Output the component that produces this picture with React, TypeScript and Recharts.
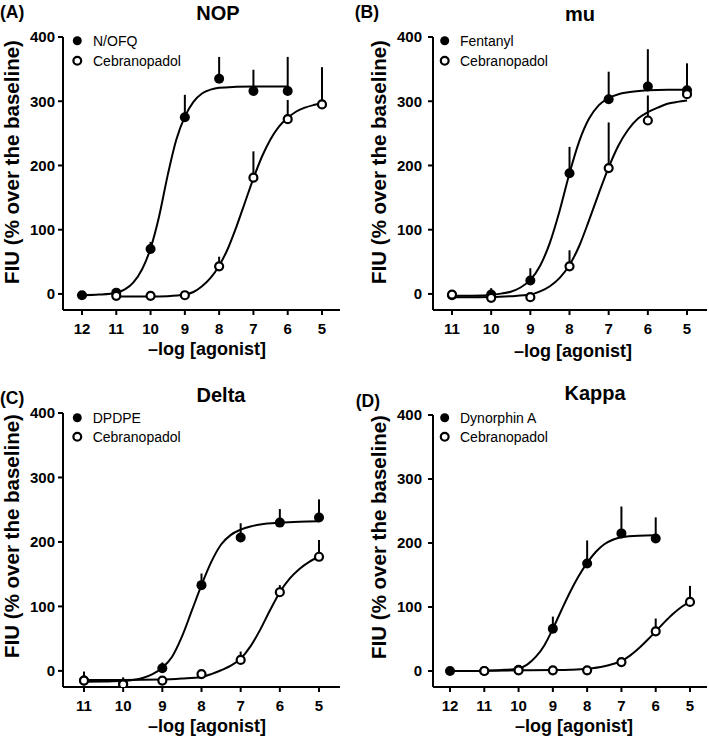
import React from 'react';
import { ComposedChart, Line, Scatter, XAxis, YAxis, ErrorBar } from 'recharts';

const FONT = '"Liberation Sans", Arial, Helvetica, sans-serif';

// ---------- Panel A: NOP ----------
const aAgonistX = [12, 11, 10, 9, 8, 7, 6];
const aAgonistY = [-2, 2, 70, 275, 335, 316, 316];
const aAgonistErr = [0, 0, 11, 35, 34, 33, 53];
const aCebX = [11, 10, 9, 8, 7, 6, 5];
const aCebY = [-3, -3, -2, 43, 181, 272, 295];
const aCebErr = [0, 0, 0, 15, 41, 30, 58];
const aAgonistCurveX = [12, 11.5, 11, 10.75, 10.5, 10.25, 10, 9.75, 9.5, 9.25, 9, 8.75, 8.5, 8.25, 8, 7.5, 7, 6];
const aAgonistCurveY = [-2, -1, 2, 7, 18, 38, 71, 121, 185, 240, 276, 299, 312, 318, 321, 322.5, 323, 323];
const aCebCurveX = [11, 10, 9.5, 9, 8.75, 8.5, 8.25, 8, 7.75, 7.5, 7.25, 7, 6.75, 6.5, 6.25, 6, 5.75, 5.5, 5.25, 5];
const aCebCurveY = [-4, -4, -3.5, -1, 3, 12, 25, 44, 70, 104, 142, 180, 214, 241, 261, 274, 284, 290, 294, 297];

// ---------- Panel B: mu ----------
const bAgonistX = [11, 10, 9, 8, 7, 6, 5];
const bAgonistY = [-2, -1, 21, 188, 303, 323, 317];
const bAgonistErr = [0, 10, 19, 41, 43, 58, 42];
const bCebX = [11, 10, 9, 8, 7, 6, 5];
const bCebY = [-1, -6, -5, 43, 196, 270, 311];
const bCebErr = [0, 0, 0, 25, 71, 39, 0];
const bAgonistCurveX = [11, 10.5, 10, 9.75, 9.5, 9.25, 9, 8.75, 8.5, 8.25, 8, 7.75, 7.5, 7.25, 7, 6.75, 6.5, 6, 5.5, 5];
const bAgonistCurveY = [-3, -2.7, -1.5, 0.5, 3.5, 10, 22, 44, 80, 130, 188, 238, 273, 294, 305, 311, 314, 317, 318, 318];
const bCebCurveX = [11, 10.5, 10, 9.5, 9, 8.75, 8.5, 8.25, 8, 7.75, 7.5, 7.25, 7, 6.75, 6.5, 6.25, 6, 5.75, 5.5, 5.25, 5];
const bCebCurveY = [-5, -5, -4.8, -3.5, -1, 4, 12, 25, 45, 75, 115, 157, 197, 231, 256, 273, 283, 290, 296, 299, 301];

// ---------- Panel C: Delta ----------
const cAgonistX = [11, 10, 9, 8, 7, 6, 5];
const cAgonistY = [-15, -20, 4, 133, 207, 230, 238];
const cAgonistErr = [14, 10, 9, 18, 22, 21, 28];
const cCebX = [11, 10, 9, 8, 7, 6, 5];
const cCebY = [-15, -21, -15, -5, 17, 122, 177];
const cCebErr = [0, 0, 0, 0, 13, 11, 26];
const cAgonistCurveX = [11, 10.5, 10, 9.5, 9.25, 9, 8.75, 8.5, 8.25, 8, 7.75, 7.5, 7.25, 7, 6.75, 6.5, 6, 5.5, 5];
const cAgonistCurveY = [-17, -16.5, -15.5, -11, -5, 5, 22, 53, 93, 133, 169, 196, 211, 219, 224, 227, 230, 231.5, 232];
const cCebCurveX = [11, 10, 9, 8.5, 8, 7.75, 7.5, 7.25, 7, 6.75, 6.5, 6.25, 6, 5.75, 5.5, 5.25, 5];
const cCebCurveY = [-14, -14, -13.5, -12, -9.5, -5, 1, 8, 19, 38, 64, 94, 122, 143, 158, 169, 177];

// ---------- Panel D: Kappa ----------
const dAgonistX = [12, 11, 10, 9, 8, 7, 6];
const dAgonistY = [0, 0, 2, 66, 168, 215, 207];
const dAgonistErr = [0, 0, 0, 19, 36, 42, 33];
const dCebX = [11, 10, 9, 8, 7, 6, 5];
const dCebY = [0, 1, 1, 1, 14, 62, 108];
const dCebErr = [0, 0, 0, 0, 0, 20, 25];
const dAgonistCurveX = [12, 11.5, 11, 10.5, 10, 9.75, 9.5, 9.25, 9, 8.75, 8.5, 8.25, 8, 7.75, 7.5, 7.25, 7, 6.5, 6];
const dAgonistCurveY = [0, 0, 0.5, 1.5, 4, 10, 22, 40, 66, 95, 123, 148, 169, 186, 198, 205, 209, 211.5, 212];
const dCebCurveX = [11, 10, 9, 8.5, 8, 7.5, 7.25, 7, 6.75, 6.5, 6.25, 6, 5.75, 5.5, 5.25, 5];
const dCebCurveY = [0.5, 1, 1.5, 2, 3.5, 7.5, 11, 15.5, 24, 35, 48, 62, 76, 89, 100, 108];

const yTicks = [0, 100, 200, 300, 400];
const ticks12 = [12, 11, 10, 9, 8, 7, 6, 5];
const ticks11 = [11, 10, 9, 8, 7, 6, 5];
const cebName = 'Cebranopadol';
const xAxisTitle = '\u2013log [agonist]';
const yAxisTitle = 'FIU (% over the baseline)';

const pts = (xs: number[], ys: number[], errs?: number[]) =>
  xs.map((x, i) => ({ x, y: ys[i], err: [0, errs ? errs[i] : 0] }));

const FilledDot = (p: any) =>
  p.cx == null ? null : <circle cx={p.cx} cy={p.cy} r={5} fill="#000" />;
const OpenDot = (p: any) =>
  p.cx == null ? null : <circle cx={p.cx} cy={p.cy} r={4} fill="#fff" stroke="#000" strokeWidth={2.2} />;

type Cfg = {
  left: number; top: number;
  letter: string; letterX: number; letterY: number;
  title: string; titleX: number; titleY: number;
  margin: { top: number; right: number; bottom: number; left: number };
  xDomain: [number, number]; xTicks: number[]; yTickMargin: number;
  agName: string;
  ag: any[]; ceb: any[]; agCurve: any[]; cebCurve: any[];
  legCx: number; legTx: number; legY1: number; legY2: number;
  xLabX: number; xLabY: number; yLabX: number; yLabY: number;
};

const panels: Cfg[] = [
  {
    left: 0, top: 0, letter: '(A)', letterX: 0, letterY: 17.5, title: 'NOP', titleX: 218, titleY: 20,
    margin: { top: 37, right: 14, bottom: 30, left: 8 }, xDomain: [4.475, 12.554], xTicks: ticks12, yTickMargin: 3,
    agName: 'N/OFQ',
    ag: pts(aAgonistX, aAgonistY, aAgonistErr), ceb: pts(aCebX, aCebY, aCebErr),
    agCurve: pts(aAgonistCurveX, aAgonistCurveY), cebCurve: pts(aCebCurveX, aCebCurveY),
    legCx: 77.3, legTx: 93, legY1: 40.7, legY2: 60.7,
    xLabX: 207, xLabY: 355, yLabX: 19, yLabY: 162,
  },
  {
    left: 354, top: 0, letter: '(B)', letterX: 0.7, letterY: 18, title: 'mu', titleX: 226, titleY: 20.5,
    margin: { top: 37, right: 1, bottom: 30, left: 24 }, xDomain: [4.49, 11.485], xTicks: ticks11, yTickMargin: 6,
    agName: 'Fentanyl',
    ag: pts(bAgonistX, bAgonistY, bAgonistErr), ceb: pts(bCebX, bCebY, bCebErr),
    agCurve: pts(bAgonistCurveX, bAgonistCurveY), cebCurve: pts(bCebCurveX, bCebCurveY),
    legCx: 90.7, legTx: 106, legY1: 40.7, legY2: 60.7,
    xLabX: 219, xLabY: 357, yLabX: 32, yLabY: 162,
  },
  {
    left: 0, top: 370, letter: '(C)', letterX: 0, letterY: 34.3, title: 'Delta', titleX: 221, titleY: 31.7,
    margin: { top: 43, right: 14, bottom: 23, left: 8 }, xDomain: [4.464, 11.536], xTicks: ticks11, yTickMargin: 3,
    agName: 'DPDPE',
    ag: pts(cAgonistX, cAgonistY, cAgonistErr), ceb: pts(cCebX, cCebY, cCebErr),
    agCurve: pts(cAgonistCurveX, cAgonistCurveY), cebCurve: pts(cCebCurveX, cCebCurveY),
    legCx: 77.3, legTx: 92.7, legY1: 47.7, legY2: 66.7,
    xLabX: 207, xLabY: 362, yLabX: 19, yLabY: 166,
  },
  {
    left: 354, top: 370, letter: '(D)', letterX: 1.7, letterY: 36.7, title: 'Kappa', titleX: 241, titleY: 30,
    margin: { top: 45, right: 1, bottom: 23, left: 24 }, xDomain: [4.504, 12.496], xTicks: ticks12, yTickMargin: 6,
    agName: 'Dynorphin A',
    ag: pts(dAgonistX, dAgonistY, dAgonistErr), ceb: pts(dCebX, dCebY, dCebErr),
    agCurve: pts(dAgonistCurveX, dAgonistCurveY), cebCurve: pts(dCebCurveX, dCebCurveY),
    legCx: 90.7, legTx: 106, legY1: 47.7, legY2: 66.7,
    xLabX: 220, xLabY: 362, yLabX: 32, yLabY: 167,
  },
];

const axisStroke = { stroke: '#000', strokeWidth: 2 };
const tickStyle = { fill: '#000', fontSize: 15, fontWeight: 700, fontFamily: FONT };

function Panel({ cfg }: { cfg: Cfg }) {
  return (
    <div style={{ position: 'absolute', left: cfg.left, top: cfg.top, width: 354, height: 370 }}>
      <ComposedChart width={354} height={370} margin={cfg.margin}>
        <XAxis
          type="number" dataKey="x" domain={cfg.xDomain} reversed allowDataOverflow
          ticks={cfg.xTicks} interval={0} height={30}
          axisLine={axisStroke} tickLine={axisStroke} tickSize={5} tickMargin={8} tick={tickStyle}
        />
        <YAxis
          type="number" dataKey="y" domain={[-25, 400]} allowDataOverflow ticks={yTicks} interval={0} width={55}
          axisLine={axisStroke} tickLine={axisStroke} tickSize={5} tickMargin={cfg.yTickMargin} tick={tickStyle}
        />
        <Line data={cfg.agCurve} dataKey="y" type="monotone" stroke="#000" strokeWidth={2} dot={false} activeDot={false} isAnimationActive={false} />
        <Line data={cfg.cebCurve} dataKey="y" type="monotone" stroke="#000" strokeWidth={2} dot={false} activeDot={false} isAnimationActive={false} />
        <Scatter data={cfg.ag} dataKey="y" shape={FilledDot} isAnimationActive={false}>
          <ErrorBar dataKey="err" direction="y" width={0} stroke="#000" strokeWidth={2} />
        </Scatter>
        <Scatter data={cfg.ceb} dataKey="y" shape={OpenDot} isAnimationActive={false}>
          <ErrorBar dataKey="err" direction="y" width={0} stroke="#000" strokeWidth={2} />
        </Scatter>
      </ComposedChart>
      <svg width={354} height={370} style={{ position: 'absolute', left: 0, top: 0, pointerEvents: 'none' }}>
        <text x={cfg.letterX} y={cfg.letterY} fontFamily={FONT} fontWeight={700} fontSize={17.5} fill="#000">{cfg.letter}</text>
        <text x={cfg.titleX} y={cfg.titleY} textAnchor="middle" fontFamily={FONT} fontWeight={700} fontSize={20} fill="#000">{cfg.title}</text>
        <circle cx={cfg.legCx} cy={cfg.legY1} r={4.5} fill="#000" />
        <text x={cfg.legTx} y={cfg.legY1 + 5} fontFamily={FONT} fontSize={14} fill="#000">{cfg.agName}</text>
        <circle cx={cfg.legCx} cy={cfg.legY2} r={3.9} fill="#fff" stroke="#000" strokeWidth={2.2} />
        <text x={cfg.legTx} y={cfg.legY2 + 5} fontFamily={FONT} fontSize={14} fill="#000">{cebName}</text>
        <text x={cfg.xLabX} y={cfg.xLabY} textAnchor="middle" fontFamily={FONT} fontWeight={700} fontSize={18} fill="#000">{xAxisTitle}</text>
        <text
          x={cfg.yLabX} y={cfg.yLabY} textAnchor="middle" fontFamily={FONT} fontWeight={700} fontSize={20.5} fill="#000"
          transform={`rotate(-90, ${cfg.yLabX}, ${cfg.yLabY})`}
        >{yAxisTitle}</text>
      </svg>
    </div>
  );
}

export default function App() {
  return (
    <div style={{ position: 'absolute', left: 0, top: 0, width: 709, height: 741, background: '#fff' }}>
      {panels.map((p) => (
        <Panel key={p.title} cfg={p} />
      ))}
    </div>
  );
}
